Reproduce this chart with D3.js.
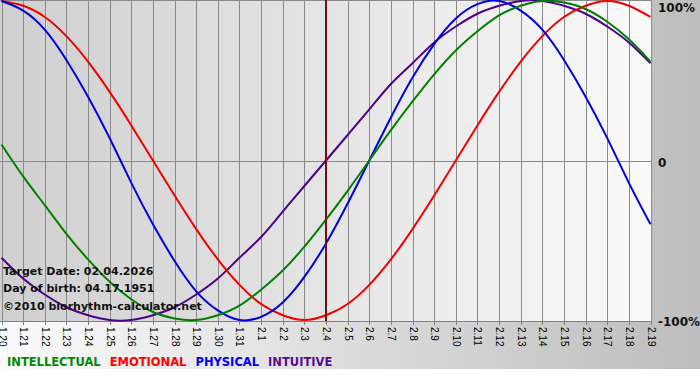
<!DOCTYPE html>
<html><head><meta charset="utf-8">
<script src="https://cdn.jsdelivr.net/npm/d3@7/dist/d3.min.js"></script>
<style>html,body{margin:0;padding:0;background:#fff;}svg{display:block;}</style>
</head><body>
<svg id="c" width="700" height="380"></svg>
<script>
const dayLabels = ["1.20","1.21","1.22","1.23","1.24","1.25","1.26","1.27","1.28","1.29","1.30","1.31",
  "2.1","2.2","2.3","2.4","2.5","2.6","2.7","2.8","2.9","2.10","2.11","2.12","2.13","2.14","2.15","2.16","2.17","2.18","2.19"];
const physical = [1.00,0.94,0.82,0.63,0.40,0.14,-0.14,-0.40,-0.63,-0.82,-0.94,-1.00,-0.98,-0.89,-0.73,-0.52,-0.27,0.00,0.27,0.52,0.73,0.89,0.98,1.00,0.94,0.82,0.63,0.40,0.14,-0.14,-0.40];
const emotional = [1.00,0.97,0.90,0.78,0.62,0.43,0.22,0.00,-0.22,-0.43,-0.62,-0.78,-0.90,-0.97,-1.00,-0.97,-0.90,-0.78,-0.62,-0.43,-0.22,0.00,0.22,0.43,0.62,0.78,0.90,0.97,1.00,0.97,0.90];
const intellectual = [0.10,-0.10,-0.28,-0.46,-0.62,-0.76,-0.87,-0.95,-0.99,-1.00,-0.97,-0.91,-0.81,-0.69,-0.54,-0.37,-0.19,0.00,0.19,0.37,0.54,0.69,0.81,0.91,0.97,1.00,0.99,0.95,0.87,0.76,0.62];
const intuitive = [-0.61,-0.74,-0.84,-0.92,-0.97,-1.00,-1.00,-0.97,-0.92,-0.84,-0.74,-0.61,-0.48,-0.32,-0.16,0.00,0.16,0.32,0.48,0.61,0.74,0.84,0.92,0.97,1.00,1.00,0.97,0.92,0.84,0.74,0.61];
const seriesNames = ["INTELLECTUAL","EMOTIONAL","PHYSICAL","INTUITIVE"];
const yTickLabels = ["100%","0","-100%"];
const yTickValues = [1,0,-1];
const targetIndex = 15;
const infoLines = ["Target Date: 02.04.2026","Day of birth: 04.17.1951","\u00A92010 biorhythm-calculator.net"];

const colors = {INTELLECTUAL:"#008000",EMOTIONAL:"#f00000",PHYSICAL:"#0000e0",INTUITIVE:"#4e0088"};
const legendColors = {INTELLECTUAL:"#008a00",EMOTIONAL:"#ff0000",PHYSICAL:"#0000ff",INTUITIVE:"#5a0a90"};
const dataBy = {INTELLECTUAL:intellectual,EMOTIONAL:emotional,PHYSICAL:physical,INTUITIVE:intuitive};

const svg = d3.select("#c");
const defs = svg.append("defs");
const g1 = defs.append("linearGradient").attr("id","bg").attr("x1","0").attr("x2","1").attr("y1","0").attr("y2","0");
g1.append("stop").attr("offset","0").attr("stop-color","#fbfbfb");
g1.append("stop").attr("offset","1").attr("stop-color","#bdbdbd");
const g2 = defs.append("linearGradient").attr("id","pbg").attr("x1","0").attr("x2","1").attr("y1","0").attr("y2","0");
g2.append("stop").attr("offset","0").attr("stop-color","#cfcfcf");
g2.append("stop").attr("offset","1").attr("stop-color","#fafafa");

const plotW = 651, plotBottom = 321;
const x = d3.scaleLinear().domain([0, dayLabels.length-1]).range([1.5, 650.5]);
const y = d3.scaleLinear().domain([-1,1]).range([320, 1]);

svg.append("rect").attr("x",0).attr("y",0).attr("width",700).attr("height",369).attr("fill","url(#bg)");
svg.append("rect").attr("x",0).attr("y",0).attr("width",plotW).attr("height",plotBottom).attr("fill","url(#pbg)");

const cx = i => Math.round(x(i)) + 0.5;
// grid
svg.append("g").selectAll("line").data(d3.range(dayLabels.length)).join("line")
  .attr("x1",cx).attr("x2",cx).attr("y1",0).attr("y2",plotBottom)
  .attr("stroke","#8a8a8a").attr("stroke-width",1);
svg.append("line").attr("x1",0).attr("x2",plotW).attr("y1",0.5).attr("y2",0.5).attr("stroke","#8a8a8a");
svg.append("line").attr("x1",0).attr("x2",plotW).attr("y1",Math.round(y(0))+0.5).attr("y2",Math.round(y(0))+0.5).attr("stroke","#8a8a8a");
svg.append("line").attr("x1",0).attr("x2",plotW).attr("y1",plotBottom+0.5).attr("y2",plotBottom+0.5).attr("stroke","#808080");

// x axis
const xa = d3.axisBottom(x).tickValues(d3.range(dayLabels.length)).tickFormat(i => dayLabels[i]).tickSize(4).tickSizeOuter(0);
const ax = svg.append("g").attr("transform",`translate(0,${plotBottom})`).call(xa);
ax.select(".domain").remove();
ax.selectAll(".tick line").attr("stroke","#808080");
ax.selectAll(".tick").attr("transform", d => `translate(${cx(d)},0)`);
ax.selectAll(".tick text").attr("transform","rotate(90)").attr("x",6).attr("y",0).attr("dy","0.35em")
  .attr("text-anchor","start").attr("font-family","'Liberation Sans', Arial, sans-serif")
  .attr("font-size",10).attr("fill","#000");

// lines
const line = d3.line().x((d,i)=>x(i)).y(d=>y(d)).curve(d3.curveNatural);
["INTUITIVE","EMOTIONAL","PHYSICAL","INTELLECTUAL"].forEach(n => {
  svg.append("path").datum(dataBy[n]).attr("d",line).attr("fill","none")
    .attr("stroke",colors[n]).attr("stroke-width",2);
});

// target line
svg.append("line").attr("x1",x(targetIndex)).attr("x2",x(targetIndex)).attr("y1",0).attr("y2",plotBottom)
  .attr("stroke","#7a0e0e").attr("stroke-width",2);

// right labels
const yDy = [11, 6, 6];
svg.append("g").selectAll("text").data(yTickValues).join("text")
  .attr("x",658).attr("y",d=>y(d)).attr("dy",(d,i)=>yDy[i])
  .attr("font-family","'DejaVu Sans', Verdana, sans-serif").attr("font-weight","bold").attr("font-size",12)
  .attr("fill","#111").text((d,i)=>yTickLabels[i]);

// info text
svg.append("g").selectAll("text").data(infoLines).join("text")
  .attr("x",3).attr("y",(d,i)=>[275,292,310][i])
  .attr("font-family","'DejaVu Sans', Verdana, sans-serif").attr("font-weight","bold").attr("font-size",11)
  .attr("fill","#111").text(d=>d);

// legend
let lx = 7;
seriesNames.forEach((n,i)=>{
  const t = svg.append("text").attr("x",lx).attr("y",366)
    .attr("font-family","'DejaVu Sans', Verdana, sans-serif").attr("font-weight","bold").attr("font-size",11.5)
    .attr("fill",legendColors[n]).text(n);
  lx += t.node().getComputedTextLength() + 9;
});
</script>
</body></html>
